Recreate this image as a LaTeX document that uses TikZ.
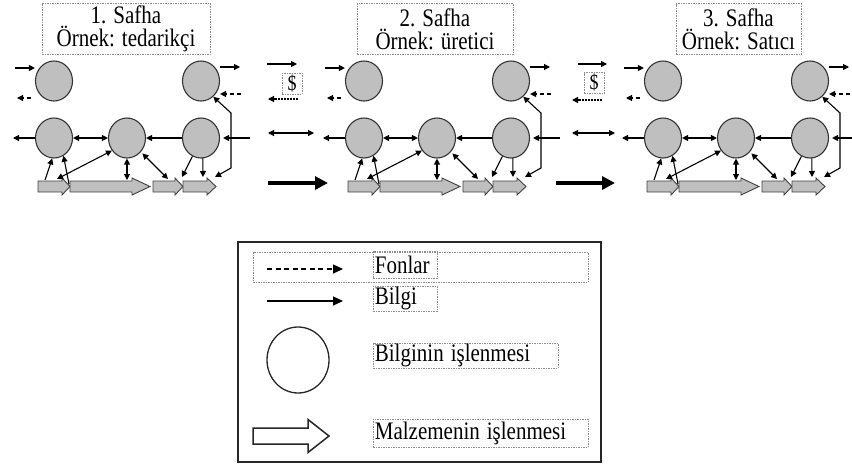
\documentclass[tikz,border=0pt]{standalone}
\usepackage{fontspec}
\usepackage{graphicx}
\setmainfont{Liberation Serif}
\usetikzlibrary{shapes.geometric,arrows.meta}

% tall lettering used for all labels
\newcommand\tall[1]{\scalebox{1}[1.2]{#1}}

% block arrow for material flow: style, x start, head start, tip, y centre, shaft half, head half
\newcommand\blockarrow[7]{%
  \draw[#1] ({#2},{#5-#6}) -- ({#3},{#5-#6}) -- ({#3},{#5-#7}) -- ({#4},{#5})
    -- ({#3},{#5+#7}) -- ({#3},{#5+#6}) -- ({#2},{#5+#6}) -- cycle;}

\tikzset{
  proc/.style={ellipse, draw=black!80, fill=black!25, line width=1.1pt,
    minimum width=37pt, minimum height=40pt, inner sep=0pt},
  info/.style={-{Triangle[length=6pt,width=6pt]}, line width=1.1pt},
  infoboth/.style={{Triangle[length=6pt,width=6pt]}-{Triangle[length=6pt,width=6pt]}, line width=1.1pt},
  fund/.style={info, dash pattern=on 4pt off 3pt},
  flowbox/.style={fill=black!25, draw=black!75, line width=0.9pt},
  bigflow/.style={-{Triangle[length=13pt,width=13pt]}, line width=4pt},
  titlebox/.style={draw=black!45, dash pattern=on 1.5pt off 1pt, line width=0.8pt,
    minimum height=51pt, inner sep=0pt, align=center,
    font=\fontsize{21}{23}\selectfont},
  moneybox/.style={draw=black!45, dash pattern=on 1.5pt off 1pt, line width=0.8pt,
    minimum width=20pt, minimum height=21pt, inner sep=0pt,
    font=\fontsize{18}{20}\selectfont},
  lbox/.style={draw=black!45, dash pattern=on 1.5pt off 1pt, line width=0.8pt,
    inner xsep=1.5pt, inner ysep=0pt, align=left, anchor=west,
    font=\fontsize{21}{24}\selectfont},
  lfund/.style={-{Triangle[length=10pt,width=9pt]}, line width=1.3pt, dash pattern=on 5pt off 3.5pt},
  linfo/.style={-{Triangle[length=10pt,width=9pt]}, line width=1.3pt},
  lflow/.style={draw=black!85, line width=1.5pt, fill=white},
}

% one stage of the chain: prefix, shift, title x, title width, title lines
\newcommand\safha[6]{%
\begin{scope}[xshift=#2pt]
  \node[titlebox, minimum width=#4pt] (#1title) at (#3,29) {\tall{#5}\\\tall{#6}};
  \node[proc] (#1tl) at (54,81) {};
  \node[proc] (#1tr) at (201,81) {};
  \node[proc] (#1ma) at (54,138) {};
  \node[proc] (#1mb) at (127,138) {};
  \node[proc] (#1mc) at (201,138) {};
  % material flow
  \blockarrow{flowbox}{38}{62}{70}{186.5}{5.5}{8.5}
  \blockarrow{flowbox}{70}{132}{150}{186.5}{5.5}{8.5}
  \blockarrow{flowbox}{153}{175}{183}{186.5}{5.5}{8.5}
  \blockarrow{flowbox}{183}{207}{216}{186.5}{5.5}{8.5}
  % upper left: incoming information, outgoing funds
  \coordinate (#1inA) at (15,68);
  \draw[info] (#1inA) -- (#1inA -| #1tl.west);
  \coordinate (#1outF) at (17,98);
  \draw[fund, shorten <=4pt] (#1outF -| #1tl.west) -- (#1outF);
  % upper right: outgoing information, incoming funds
  \coordinate (#1outA) at (240,67);
  \draw[info] (#1outA -| #1tr.east) -- (#1outA);
  \coordinate (#1inF) at (241,94);
  \draw[fund] (#1inF) -- (#1inF -| #1tr.east);
  % feedback along the right edge
  \coordinate (#1fba) at (231,113);
  \coordinate (#1fbb) at (231,168);
  \coordinate (#1fbc) at (215,177);
  \draw[infoboth] (#1tr.-52) -- (#1fba) -- (#1fbb) -- (#1fbc);
  \coordinate (#1inR) at (250,138);
  \draw[info, shorten >=3pt] (#1inR) -- (#1mc.east);
  % middle row
  \coordinate (#1outL) at (13,138);
  \draw[info] (#1ma.west) -- (#1outL);
  \draw[infoboth] (#1ma.east) -- (#1mb.west);
  \draw[info] (#1mc.west) -- (#1mb.east);
  % links to the material flow
  \coordinate (#1pa) at (45,180);
  \draw[info] (#1pa) -- (#1ma.-95);
  \coordinate (#1pb) at (69,184);
  \draw[info] (#1pb) -- (#1ma.-62);
  \coordinate (#1pc) at (57,179);
  \draw[infoboth] (#1pc) -- (#1mb.220);
  \coordinate (#1pd) at (127,180);
  \draw[infoboth] (#1mb.south) -- (#1pd);
  \coordinate (#1pe) at (168,179);
  \draw[infoboth, shorten <=2pt] (#1mb.-45) -- (#1pe);
  \coordinate (#1pf) at (182,177);
  \draw[info] (#1mc.-115) -- (#1pf);
  \coordinate (#1pg) at (203,177);
  \draw[info] (#1mc.-85) -- (#1pg);
\end{scope}}

\begin{document}
\begin{tikzpicture}[x=1pt, y=-1pt]
  \useasboundingbox (0,0) rectangle (852,466);
  \clip (0,0) rectangle (852,466);

  \safha{s}{0}{126}{168}{1. Safha}{Örnek: tedarikçi}
  \safha{u}{310}{125}{156}{2. Safha}{Örnek: üretici}
  \safha{v}{609}{129.5}{125}{3. Safha}{Örnek: Satıcı}

  % exchanges between stages 1 and 2
  \coordinate (ga1) at (267,64);  \coordinate (ga2) at (297,64);
  \draw[info] (ga1) -- (ga2);
  \node[moneybox] (gm) at (292,83.5) {\tall{\$}};
  \coordinate (gf1) at (298,99);  \coordinate (gf2) at (268,99);
  \draw[fund, dash pattern=on 2pt off 1pt] (gf1) -- (gf2);
  \coordinate (gb1) at (268,133); \coordinate (gb2) at (314,133);
  \draw[infoboth] (gb1) -- (gb2);
  \coordinate (gt1) at (268,183); \coordinate (gt2) at (328,183);
  \draw[bigflow] (gt1) -- (gt2);

  % exchanges between stages 2 and 3
  \coordinate (ha1) at (578,64);  \coordinate (ha2) at (607,64);
  \draw[info] (ha1) -- (ha2);
  \node[moneybox] (hm) at (594,83) {\tall{\$}};
  \coordinate (hf1) at (602,100); \coordinate (hf2) at (572,100);
  \draw[fund, dash pattern=on 2pt off 1pt] (hf1) -- (hf2);
  \coordinate (hb1) at (572,133); \coordinate (hb2) at (615,133);
  \draw[infoboth] (hb1) -- (hb2);
  \coordinate (ht1) at (556,183); \coordinate (ht2) at (615,183);
  \draw[bigflow] (ht1) -- (ht2);

  % legend
  \node[draw=black!85, line width=1.4pt, minimum width=363pt, minimum height=220pt, inner sep=0pt]
    (legend) at (419.5,352) {};
  \node[draw=black!45, dash pattern=on 1.5pt off 1pt, line width=0.8pt,
    minimum width=335pt, minimum height=30pt, inner sep=0pt] (fundrow) at (420.5,267) {};
  \coordinate (fa0) at (267,269); \coordinate (fa1) at (343,269);
  \draw[lfund] (fa0) -- (fa1);
  \node[lbox, text width=61pt, minimum height=27pt] (fundtxt) at (373,264.5) {\tall{Fonlar}};
  \coordinate (ia0) at (267,301); \coordinate (ia1) at (343,301);
  \draw[linfo] (ia0) -- (ia1);
  \node[lbox, text width=61pt, minimum height=25pt] (infotxt) at (373,298.5) {\tall{Bilgi}};
  \node[ellipse, draw=black!85, line width=1.3pt, minimum width=62pt, minimum height=66pt,
    inner sep=0pt] (lcirc) at (298,360) {};
  \node[lbox, text width=182pt, minimum height=25pt] (proctxt) at (373,355.5) {\tall{Bilginin işlenmesi}};
  \blockarrow{lflow}{253}{308}{329}{436}{8}{16.5}
  \node[lbox, text width=212pt, minimum height=28pt] (flowtxt) at (373,433) {\tall{Malzemenin işlenmesi}};
\end{tikzpicture}
\end{document}
